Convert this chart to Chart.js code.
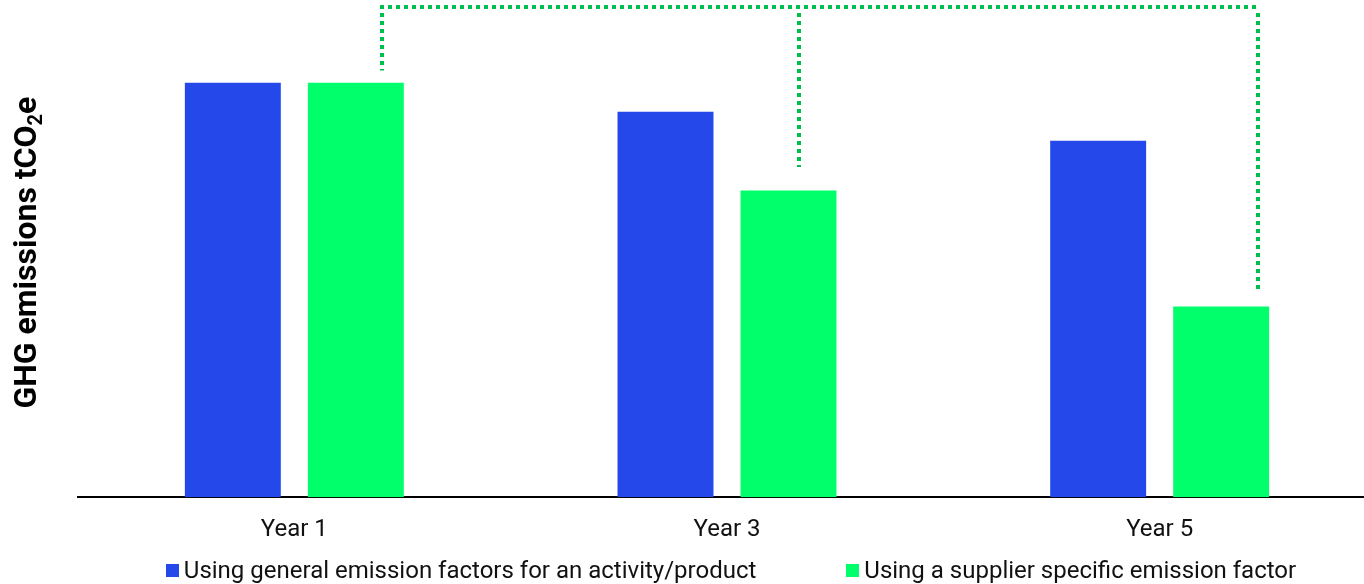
<!DOCTYPE html>
<html>
<head>
<meta charset="utf-8">
<script src="https://cdn.jsdelivr.net/npm/chart.js@4"></script>
<style>
  html, body { margin: 0; padding: 0; background: #fff; overflow: hidden; }
  .wrap { position: relative; width: 1380px; height: 584px; }
  #emissions { position: absolute; left: 0; top: 0; }
  .legend {
    position: absolute; top: 556px; left: 0; width: 1462px;
    display: flex; justify-content: center; gap: 90px;
    font-family: Roboto, sans-serif; font-size: 24px; color: #111;
  }
  .legend span.item { display: flex; align-items: center; }
  .legend i { display: inline-block; width: 13px; height: 13px; margin-right: 5px; }
</style>
</head>
<body>
<div class="wrap">
  <canvas id="emissions" width="1380" height="584"></canvas>
  <div class="legend" id="legend"></div>
</div>
<script>
const years = ['Year 1', 'Year 3', 'Year 5'];
const generalFactor = [100, 93, 86];
const supplierFactor = [100, 74, 46];
const seriesNames = [
  'Using general emission factors for an activity/product',
  'Using a supplier specific emission factor'
];

// dotted bracket joining the supplier bars
const bracketTop = 118.3;
const bracketEnds = [103, 79.7, 50.2];
const bracketShift = [0.27, 0.11, 0.38];

const blue = '#2448EA';
const green = '#00FF6A';
const dotGreen = '#00BE4C';

const yTitle = {
  id: 'yTitle',
  afterDraw(chart) {
    const ctx = chart.ctx;
    const area = chart.chartArea;
    const big = 'bold 32px Roboto';
    const small = 'bold 20px Roboto';
    ctx.save();
    ctx.font = big;
    const a = 'GHG emissions tCO';
    const wa = ctx.measureText(a).width;
    const we = ctx.measureText('e').width;
    ctx.font = small;
    const w2 = ctx.measureText('2').width;
    const total = wa + w2 + we;
    ctx.translate(28, (area.top + area.bottom) / 2 + 4);
    ctx.rotate(-Math.PI / 2);
    ctx.fillStyle = '#000';
    ctx.textBaseline = 'middle';
    let x = -total / 2;
    ctx.font = big;
    ctx.fillText(a, x, 0);
    x += wa;
    ctx.font = small;
    ctx.fillText('2', x, 9);
    x += w2;
    ctx.font = big;
    ctx.fillText('e', x, 0);
    ctx.restore();
  }
};

const bracket = {
  id: 'bracket',
  afterDatasetsDraw(chart) {
    const ctx = chart.ctx;
    const y = chart.scales.y;
    const bars = chart.getDatasetMeta(1).data;
    const top = Math.round(y.getPixelForValue(bracketTop));
    const xs = bars.map((b, i) => Math.round(b.x + bracketShift[i] * b.width));
    ctx.save();
    ctx.strokeStyle = dotGreen;
    ctx.lineWidth = 4;
    ctx.setLineDash([4, 4]);
    ctx.beginPath();
    ctx.moveTo(xs[0] - 2, top);
    ctx.lineTo(xs[xs.length - 1] + 2, top);
    xs.forEach((x, i) => {
      ctx.moveTo(x, top + 6);
      ctx.lineTo(x, y.getPixelForValue(bracketEnds[i]));
    });
    ctx.stroke();
    ctx.restore();
  }
};

const chart = new Chart(document.getElementById('emissions'), {
  type: 'bar',
  data: {
    labels: years,
    datasets: [
      { label: seriesNames[0], data: generalFactor, backgroundColor: blue },
      { label: seriesNames[1], data: supplierFactor, backgroundColor: green }
    ]
  },
  options: {
    responsive: false,
    animation: false,
    categoryPercentage: 0.5686,
    barPercentage: 0.78,
    layout: { padding: { left: 78, right: 4, top: 0, bottom: 22 } },
    plugins: {
      legend: { display: false },
      tooltip: { enabled: false }
    },
    scales: {
      x: {
        grid: { display: false, drawTicks: false },
        border: { display: true, color: '#000', width: 2 },
        ticks: { color: '#111', padding: 18, font: { family: 'Roboto', size: 24 } }
      },
      y: {
        display: false,
        min: 0,
        max: 120
      }
    }
  },
  plugins: [bracket, yTitle]
});

const legend = document.getElementById('legend');
chart.data.datasets.forEach(ds => {
  const item = document.createElement('span');
  item.className = 'item';
  const box = document.createElement('i');
  box.style.background = ds.backgroundColor;
  item.appendChild(box);
  item.appendChild(document.createTextNode(ds.label));
  legend.appendChild(item);
});
</script>
</body>
</html>
